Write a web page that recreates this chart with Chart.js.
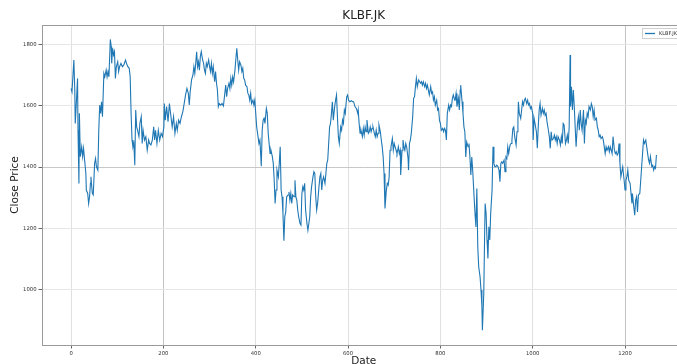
<!DOCTYPE html>
<html lang="en">
<head>
  <meta charset="UTF-8" />
  <title>KLBF.JK</title>
  <script src="https://cdn.jsdelivr.net/npm/chart.js"></script>
  <style>
    html, body {
      margin: 0;
      padding: 0;
      background: #fff;
      overflow: hidden;
    }
    .wrap {
      position: relative;
      width: 690px;
      height: 370px;
    }
  </style>
</head>
<body>
  <div class="wrap"><canvas id="priceChart"></canvas></div>

  <script>
    // trading-day index and close price
    const dayIndex = [
      0, 2, 6, 8, 9, 11, 14, 15, 17, 18, 20, 23, 25, 27, 30, 32, 33, 36, 38, 40, 42, 43, 46, 48, 51, 53, 55, 58, 60, 62,
      64, 66, 68, 71, 73, 76, 78, 80, 82, 85, 87, 88, 90, 92, 94, 96, 98, 101, 103, 105, 108, 111, 114, 118, 120, 123, 126, 128, 130, 132,
      134, 136, 138, 140, 142, 144, 147, 149, 152, 154, 156, 159, 162, 165, 168, 170, 173, 176, 179, 181, 183, 186, 189, 192, 195, 198, 201,
      202, 204, 207, 210, 213, 216, 219, 222, 225, 228, 230, 233, 236, 239, 242, 245, 248, 251, 254, 256, 258, 261, 264, 266, 268, 270,
      272, 274, 276, 278, 280, 282, 285, 287, 289, 291, 293, 295, 298, 300, 302, 304, 306, 308, 311, 313, 315, 317, 319, 321, 324, 327,
      330, 333, 335, 337, 339, 342, 344, 346, 348, 350, 352, 355, 357, 359, 361, 363, 365, 368, 370, 372, 374, 376, 378, 381, 383, 385,
      387, 389, 391, 394, 396, 398, 400, 402, 404, 407, 409, 411, 412,
      414, 416, 418, 420, 423, 425, 427, 429, 431, 433, 436, 438, 440, 442, 444, 446, 449, 451, 453, 455, 457, 459, 461, 463, 465, 467,
      470, 472, 474, 476, 478, 480, 483, 485, 487, 489, 491, 493, 496, 498, 500, 502, 504, 506, 508, 511, 513, 515, 517, 519, 521, 524,
      526, 528, 530, 532, 534, 537, 539, 541, 543, 545, 547, 550, 552, 554, 556, 558, 560, 562, 564, 566, 568, 571, 573, 575, 577, 579,
      581, 584, 586, 588, 590, 592, 594, 597, 599, 601, 604, 607, 610, 612, 615, 618, 621,
      622, 624, 626, 628, 631, 633, 635, 637, 639, 641, 644, 646, 648, 650, 652, 654, 657, 659, 661, 663, 665, 667, 670, 672, 674, 676,
      678, 680, 683, 685, 687, 689, 691, 693, 696, 698, 700, 702, 704, 706, 709, 711, 713, 714, 717, 719, 721, 723, 725, 727, 730, 731,
      733, 735, 737, 740, 742, 744, 746, 748, 750, 753, 755, 757, 759, 761, 763, 766, 768, 770, 772, 774, 776, 779, 781, 783, 785, 787,
      789, 792, 794, 796, 798, 800, 802, 805, 807, 809, 811, 813, 815, 818, 820, 822, 824, 826, 828, 831,
      832, 834, 836, 839, 841, 843, 844, 847, 849, 851, 853, 855, 857, 860, 862, 864, 866, 868, 870, 873, 875, 877, 879, 881, 883, 886,
      888, 890, 891, 894, 896, 897, 899, 901, 903, 905, 907, 909, 912, 914, 916, 918, 920, 922, 925, 927, 929, 931, 933, 935, 938, 940,
      942, 944, 946, 948, 951, 953, 955, 957, 959, 961, 964, 966, 968, 969, 971, 974, 976, 978, 980, 982, 984, 987, 989, 991, 993, 995,
      997, 1000, 1001, 1003, 1005, 1008, 1010, 1012, 1014, 1016, 1018, 1021, 1023, 1025, 1027, 1029, 1031, 1034, 1036, 1038, 1040,
      1042, 1045, 1047, 1049, 1051, 1053, 1055, 1058, 1060, 1062, 1064, 1066, 1068, 1071, 1073, 1075, 1077, 1079, 1081, 1082, 1084, 1086,
      1088, 1090, 1092, 1094, 1097, 1099, 1101, 1103, 1105, 1107, 1110, 1112, 1114, 1116, 1118, 1120, 1122, 1125, 1127, 1129, 1131, 1133,
      1135, 1138, 1140, 1142, 1144, 1146, 1148, 1151, 1153, 1155, 1157, 1159, 1161, 1164, 1166, 1168, 1170, 1172, 1174, 1177, 1179, 1181,
      1183, 1185, 1187, 1189, 1191, 1193, 1195, 1198, 1200, 1202, 1204, 1206, 1208, 1211, 1213, 1215, 1216, 1219, 1221, 1223, 1225, 1227,
      1229, 1232, 1234, 1236, 1238, 1240, 1242, 1245, 1247, 1249, 1251, 1253, 1255, 1258, 1260, 1262, 1264, 1266, 1268
    ];

    const closePrice = [
      1656, 1645, 1749, 1651, 1542, 1597, 1689, 1520, 1346, 1575, 1434, 1466, 1434, 1461, 1412, 1379, 1325, 1314, 1281, 1303, 1347, 1368, 1314, 1309, 1412, 1428, 1401, 1390, 1520, 1602,
      1575, 1613, 1564, 1705, 1694, 1716, 1694, 1711, 1694, 1816, 1792, 1738, 1787, 1765, 1776, 1689, 1727, 1743, 1711, 1727, 1738, 1727, 1732, 1749, 1738, 1727, 1722, 1694, 1575, 1488,
      1466, 1477, 1406, 1586, 1531, 1520, 1499, 1542, 1564, 1477, 1520, 1488, 1499, 1455, 1488, 1477, 1472, 1488, 1531, 1488, 1520, 1477, 1520, 1488, 1510, 1499, 1531,
      1607, 1553, 1597, 1548, 1607, 1569, 1531, 1564, 1510, 1542, 1520, 1553, 1542, 1564, 1580, 1607, 1635, 1656, 1640, 1602, 1645, 1684, 1700, 1727, 1705, 1738,
      1776, 1727, 1743, 1716, 1760, 1776, 1749, 1738, 1716, 1705, 1738, 1727, 1749, 1727, 1711, 1738, 1705, 1727, 1678, 1711, 1673, 1651, 1597, 1607, 1602, 1607,
      1599, 1640, 1667, 1629, 1656, 1673, 1656, 1689, 1667, 1694, 1678, 1716, 1754, 1787, 1749, 1716, 1743, 1732, 1711, 1722, 1689, 1684, 1667, 1662, 1640, 1635,
      1618, 1640, 1607, 1618, 1602, 1618, 1575, 1531, 1510, 1477, 1488, 1434, 1403,
      1520, 1553, 1559, 1542, 1591, 1575, 1510, 1477, 1444, 1455, 1434, 1412, 1357, 1281, 1325, 1390, 1368, 1412, 1466, 1325, 1303, 1249, 1160, 1238, 1254, 1303,
      1309, 1319, 1292, 1314, 1281, 1309, 1303, 1357, 1303, 1292, 1260, 1238, 1216, 1211, 1314, 1336, 1325, 1347, 1260, 1216, 1194, 1216, 1238, 1303, 1336, 1368,
      1385, 1379, 1303, 1260, 1281, 1336, 1368, 1379, 1325, 1357, 1368, 1347, 1379, 1412, 1423, 1477, 1531, 1542, 1575, 1613, 1553, 1597, 1618, 1635, 1564, 1499,
      1477, 1531, 1520, 1553, 1542, 1586, 1575, 1629, 1635, 1618, 1613, 1616, 1613, 1613, 1597, 1591, 1575,
      1586, 1542, 1510, 1520, 1499, 1526, 1504, 1531, 1515, 1553, 1510, 1515, 1531, 1515, 1526, 1531, 1510, 1499, 1520, 1499, 1510, 1537, 1515, 1488, 1466, 1434,
      1379, 1265, 1325, 1347, 1341, 1368, 1455, 1466, 1493, 1455, 1477, 1466, 1455, 1444, 1466, 1444, 1455, 1374, 1455, 1488, 1466, 1455, 1477, 1466, 1428, 1390,
      1477, 1488, 1510, 1564, 1624, 1629, 1662, 1689, 1662, 1684, 1678, 1673, 1678, 1667, 1678, 1662, 1673, 1656, 1667, 1651, 1635, 1662, 1640, 1645, 1618, 1629,
      1602, 1618, 1586, 1591, 1553, 1542, 1520, 1526, 1515, 1526, 1520, 1488, 1575, 1602, 1586, 1602, 1597, 1624, 1635, 1618,
      1618, 1640, 1597, 1624, 1586, 1651, 1667, 1613, 1575, 1531, 1515, 1433, 1482, 1466, 1477, 1433, 1374, 1433, 1390, 1303, 1249, 1205, 1330, 1140, 1075, 1042,
      999, 944, 868, 988, 1194, 1281, 1249, 1162, 1102, 1205, 1162, 1249, 1325, 1466, 1412, 1401, 1401, 1406, 1401, 1390, 1352, 1412, 1417, 1412, 1423, 1385,
      1433, 1428, 1466, 1444, 1472, 1477, 1488, 1526, 1531, 1499, 1472, 1515, 1553, 1613, 1575, 1559, 1586, 1613, 1602, 1618, 1624, 1607, 1618, 1602, 1607, 1591,
      1597, 1575, 1488, 1559, 1542, 1515, 1461, 1531, 1586, 1607, 1569, 1591, 1575, 1586, 1569, 1575, 1548, 1520, 1499, 1461, 1515,
      1488, 1493, 1504, 1488, 1499, 1477, 1499, 1488, 1472, 1499, 1477, 1542, 1537, 1477, 1488, 1504, 1477, 1531, 1765, 1597, 1662, 1586,
      1651, 1597, 1531, 1466, 1542, 1564, 1520, 1586, 1542, 1520, 1586, 1477, 1553, 1542, 1575, 1564, 1597, 1586, 1607, 1597, 1564, 1586,
      1553, 1559, 1531, 1520, 1499, 1504, 1493, 1499, 1488, 1466, 1444, 1466, 1455, 1466, 1450, 1466, 1455, 1444, 1499, 1455, 1444, 1450,
      1439, 1444, 1477, 1412, 1368, 1385, 1401, 1357, 1325, 1357, 1368, 1390, 1357, 1347, 1314, 1281, 1314, 1270, 1243, 1292, 1303, 1254,
      1309, 1314, 1357, 1401, 1444, 1488, 1477, 1488, 1466, 1444, 1423, 1412, 1434, 1401, 1406, 1390, 1401, 1396, 1439
    ];

    const xTicks = [0, 200, 400, 600, 800, 1000, 1200];
    const yTicks = [1000, 1200, 1400, 1600, 1800];

    const points = dayIndex.map((d, i) => ({ x: d, y: closePrice[i] }));

    // outer frame + small legend box in the top right corner
    const framePlugin = {
      id: 'frame',
      afterDraw(chart) {
        const { ctx, chartArea: a } = chart;
        ctx.save();
        ctx.strokeStyle = '#9a9a9a';
        ctx.lineWidth = 1;
        ctx.strokeRect(Math.round(a.left) + 0.5, Math.round(a.top) + 0.5,
          Math.round(a.right - a.left), Math.round(a.bottom - a.top));

        const ds = chart.data.datasets[0];
        ctx.fillStyle = '#fff';
        ctx.strokeStyle = '#d0d0d0';
        ctx.fillRect(642, 28, 50, 10);
        ctx.strokeRect(642.5, 28.5, 50, 10);
        ctx.strokeStyle = ds.borderColor;
        ctx.lineWidth = 1.3;
        ctx.beginPath();
        ctx.moveTo(645, 33.5);
        ctx.lineTo(655, 33.5);
        ctx.stroke();
        ctx.fillStyle = '#333';
        ctx.font = '5px "DejaVu Sans"';
        ctx.textBaseline = 'middle';
        ctx.fillText(ds.label, 659, 33.5);
        ctx.restore();
      }
    };

    const plainLabel = v => String(v);

    const ctx = document.getElementById('priceChart').getContext('2d');
    new Chart(ctx, {
      type: 'line',
      data: {
        datasets: [{
          label: 'KLBF.JK',
          data: points,
          borderColor: '#1f77b4',
          borderWidth: 1.1,
          pointRadius: 0,
          tension: 0,
          fill: false
        }]
      },
      options: {
        responsive: true,
        maintainAspectRatio: false,
        animation: false,
        devicePixelRatio: 1,
        layout: { padding: { left: 0, right: 4.5, top: 0, bottom: 0 } },
        plugins: {
          legend: { display: false },
          tooltip: { enabled: false },
          title: {
            display: true,
            text: 'KLBF.JK',
            fullSize: false,
            color: '#222',
            font: { family: 'DejaVu Sans', size: 12, weight: 'normal' },
            padding: { top: 8.5, bottom: 2.1 }
          }
        },
        scales: {
          x: {
            type: 'linear',
            min: -63,
            max: 1331,
            afterFit: s => { s.height = 25; },
            afterBuildTicks: s => { s.ticks = xTicks.map(v => ({ value: v })); },
            border: { display: false },
            grid: {
              color: c => (c.tick && (c.tick.value === 200 || c.tick.value === 1200)) ? '#c4c4c4' : '#e0e0e0',
              tickColor: '#666',
              tickLength: 3.5
            },
            ticks: {
              color: '#333',
              padding: 2,
              maxRotation: 0,
              callback: plainLabel,
              font: { family: 'DejaVu Sans', size: 5.3 }
            },
            title: {
              display: true,
              text: 'Date',
              color: '#222',
              font: { family: 'DejaVu Sans', size: 10.5 },
              padding: { top: 0, bottom: 2 }
            }
          },
          y: {
            min: 820,
            max: 1863,
            afterFit: s => { s.width = 42; },
            afterBuildTicks: s => { s.ticks = yTicks.map(v => ({ value: v })); },
            border: { display: false },
            grid: {
              color: c => (c.tick && c.tick.value === 1400) ? '#c8c8c8' : '#e6e6e6',
              tickColor: '#666',
              tickLength: 3.5
            },
            ticks: {
              color: '#333',
              padding: 2,
              callback: plainLabel,
              font: { family: 'DejaVu Sans', size: 5.3 }
            },
            title: {
              display: true,
              text: 'Close Price',
              color: '#222',
              font: { family: 'DejaVu Sans', size: 10.5 },
              padding: { top: 9.3, bottom: 0 }
            }
          }
        }
      },
      plugins: [framePlugin]
    });
  </script>
</body>
</html>
